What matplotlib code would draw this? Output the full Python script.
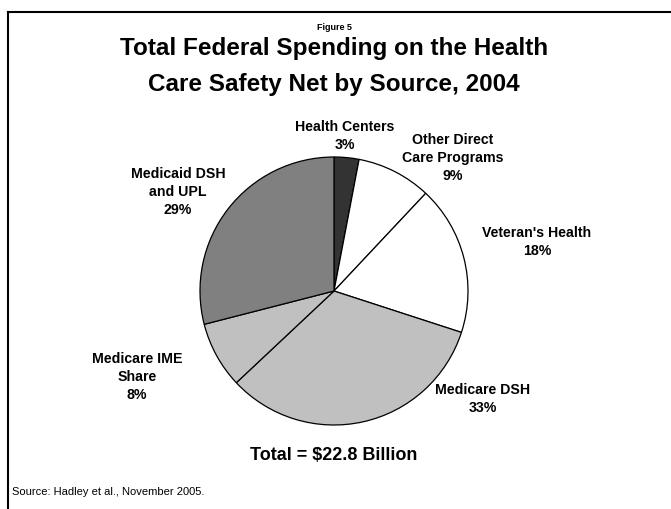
import matplotlib.pyplot as plt
from matplotlib.lines import Line2D

plt.rcParams["font.family"] = ["Liberation Sans", "DejaVu Sans"]

# slices, clockwise from 12 o'clock
sources = ["Health Centers", "Other Direct\nCare Programs", "Veteran's Health",
           "Medicare DSH", "Medicare IME\nShare", "Medicaid DSH\nand UPL"]
shares = [3, 9, 18, 33, 8, 29]
colors = ["#333333", "#ffffff", "#ffffff", "#c0c0c0", "#c0c0c0", "#808080"]

# label centres in pixels (x, y from top)
label_pos = [(345, 136), (453, 158), (537, 242), (483, 399), (137, 377), (178, 192)]

W, H = 671, 510
fig = plt.figure(figsize=(W / 100, H / 100), dpi=100)

# pie centred at (334, 292) px, radius 134 px
lim = 1.03
r_px = 134 * lim
ax = fig.add_axes([(334 - r_px) / W, (H - 292 - r_px) / H, 2 * r_px / W, 2 * r_px / H])
ax.pie(shares, colors=colors, startangle=90, counterclock=False,
       wedgeprops={"edgecolor": "black", "linewidth": 0.9})
ax.set_xlim(-lim, lim)
ax.set_ylim(-lim, lim)
ax.set_aspect("equal")

for name, pct, (px, py) in zip(sources, shares, label_pos):
    fig.text(px / W, 1 - py / H, f"{name}\n{pct}%", ha="center", va="center",
             fontsize=10.2, fontweight="bold", linespacing=1.4)

fig.text(334 / W, 1 - 27 / H, "Figure 5", ha="center", va="center",
         fontsize=6.5, fontweight="bold")
fig.text(334 / W, 1 - 49 / H, "Total Federal Spending on the Health",
         ha="center", va="center", fontsize=17.5, fontweight="bold")
fig.text(334 / W, 1 - 84 / H, "Care Safety Net by Source, 2004",
         ha="center", va="center", fontsize=17.5, fontweight="bold")
fig.text(334 / W, 1 - 455 / H, "Total = $22.8 Billion", ha="center", va="center",
         fontsize=13, fontweight="bold")
fig.text(12 / W, 1 - 492 / H, "Source: Hadley et al., November 2005.", ha="left",
         va="center", fontsize=8)

# frame: left and top edges only
fig.add_artist(Line2D([8 / W, 8 / W], [0, 1 - 13 / H], color="black", linewidth=1.5))
fig.add_artist(Line2D([8 / W, 1], [1 - 13 / H, 1 - 13 / H], color="black", linewidth=1.5))

fig.savefig("out.png", dpi=100)
